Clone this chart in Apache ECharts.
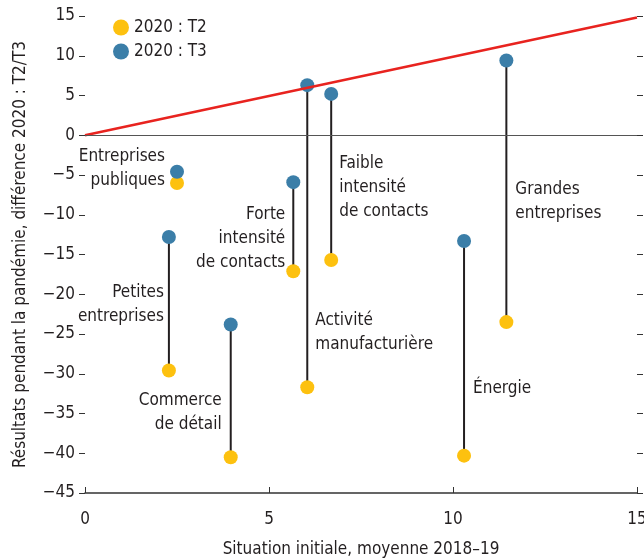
<!DOCTYPE html>
<html>
<head>
<meta charset="utf-8">
<script src="https://cdn.jsdelivr.net/npm/echarts@6/dist/echarts.min.js"></script>
<style>
  html, body { margin: 0; padding: 0; background: #fff; }
  #chart { width: 644px; height: 560px; }
</style>
</head>
<body>
<div id="chart"></div>
<script>
// secteurs / catégories
var categories = [
  'Entreprises\npubliques',
  'Petites\nentreprises',
  'Commerce\nde détail',
  'Forte\nintensité\nde contacts',
  'Activité\nmanufacturière',
  'Faible\nintensité\nde contacts',
  'Énergie',
  'Grandes\nentreprises'
];
// situation initiale, moyenne 2018-19
var initial = [2.5, 2.28, 3.96, 5.66, 6.04, 6.69, 10.3, 11.45];
// 2020 : T2
var t2 = [-6.0, -29.6, -40.5, -17.1, -31.7, -15.7, -40.3, -23.5];
// 2020 : T3
var t3 = [-4.6, -12.8, -23.8, -5.9, 6.3, 5.2, -13.3, 9.4];
var xTicks = [0, 5, 10, 15];
var yTicks = [-45, -40, -35, -30, -25, -20, -15, -10, -5, 0, 5, 10, 15];

var FONT = '"Liberation Sans Narrow", "DejaVu Sans Condensed", "Roboto", sans-serif';
var TXT = '#231f20';

// placement des étiquettes (par rapport au point T2)
var labelLayout = [
  {pos: 'left', off: [-5, -14]},
  {pos: 'left', off: [2, -66]},
  {pos: 'left', off: [-2, -45]},
  {pos: 'left', off: [-1, -33]},
  {pos: 'right', off: [1, -55]},
  {pos: 'right', off: [1, -72]},
  {pos: 'right', off: [2, -67]},
  {pos: 'right', off: [2, -120]}
];

var t2Data = initial.map(function (x, i) {
  return {
    value: [x, t2[i]],
    name: categories[i],
    label: {
      show: true,
      position: labelLayout[i].pos,
      distance: 0,
      offset: labelLayout[i].off,
      align: labelLayout[i].pos === 'left' ? 'right' : 'left',
      formatter: categories[i]
    }
  };
});
var t3Data = initial.map(function (x, i) { return [x, t3[i]]; });
var stemData = initial.map(function (x, i) { return [x, t3[i], t2[i]]; });

var myChart = echarts.init(document.getElementById('chart'));

var option = {
  animation: false,
  textStyle: {fontFamily: FONT, color: TXT},
  legend: {
    left: 108,
    top: 14,
    orient: 'vertical',
    itemGap: 7,
    itemWidth: 16,
    itemHeight: 16,
    icon: 'circle',
    textStyle: {fontFamily: FONT, fontSize: 17, color: TXT},
    data: ['2020 : T2', '2020 : T3']
  },
  grid: {left: 85, right: 7, top: 16, bottom: 67, outerBoundsMode: 'none'},
  xAxis: {
    type: 'value',
    min: 0,
    max: 15,
    interval: 5,
    name: 'Situation initiale, moyenne 2018–19',
    nameLocation: 'middle',
    nameGap: 48,
    nameTextStyle: {fontFamily: FONT, fontSize: 17, color: TXT},
    axisLine: {onZero: false, lineStyle: {color: '#333', width: 1.5}},
    axisTick: {inside: true, length: 6, lineStyle: {color: '#333'}},
    axisLabel: {fontFamily: FONT, fontSize: 17, color: TXT, margin: 18,
      formatter: function (v) { return xTicks.indexOf(v) >= 0 ? String(v) : ''; }},
    splitLine: {show: false}
  },
  yAxis: [{
    type: 'value',
    min: -45,
    max: 15,
    interval: 5,
    name: 'Résultats pendant la pandémie, différence 2020 : T2/T3',
    nameLocation: 'middle',
    nameGap: 56,
    nameTextStyle: {fontFamily: FONT, fontSize: 17, color: TXT},
    axisLine: {show: false},
    axisTick: {show: true, length: 6, lineStyle: {color: '#333'}},
    axisLabel: {fontFamily: FONT, fontSize: 17, color: TXT, margin: 10,
      formatter: function (v) {
        return yTicks.indexOf(v) >= 0 ? String(v).replace('-', '\u2212') : '';
      }},
    splitLine: {show: false}
  }, {
    type: 'value',
    position: 'right',
    min: -45,
    max: 15,
    interval: 5,
    axisLine: {show: false},
    axisTick: {show: true, length: 6, lineStyle: {color: '#333'}},
    axisLabel: {show: false},
    splitLine: {show: false}
  }],
  series: [
    {
      type: 'custom',
      name: 'stems',
      silent: true,
      z: 1,
      renderItem: function (params, api) {
        var a = api.coord([api.value(0), api.value(1)]);
        var b = api.coord([api.value(0), api.value(2)]);
        return {
          type: 'line',
          shape: {x1: a[0], y1: a[1], x2: b[0], y2: b[1]},
          style: {stroke: '#231f20', lineWidth: 2}
        };
      },
      data: stemData
    },
    {
      name: '2020 : T2',
      type: 'scatter',
      z: 3,
      symbolSize: 14,
      itemStyle: {color: '#fdc10f', opacity: 1},
      label: {fontFamily: FONT, fontSize: 17, color: TXT, lineHeight: 24},
      data: t2Data
    },
    {
      name: '2020 : T3',
      type: 'scatter',
      z: 3,
      symbolSize: 14,
      itemStyle: {color: '#3b7ea8', opacity: 1},
      data: t3Data
    },
    {
      name: 'ref',
      type: 'line',
      z: 4,
      silent: true,
      symbol: 'none',
      lineStyle: {color: '#e8231f', width: 2.5},
      data: [[0, 0], [15, 14.8]],
      markLine: {
        silent: true,
        symbol: 'none',
        label: {show: false},
        lineStyle: {color: '#555', width: 1.2, type: 'solid'},
        data: [{yAxis: 0}]
      }
    }
  ]
};

myChart.setOption(option);
</script>
</body>
</html>
